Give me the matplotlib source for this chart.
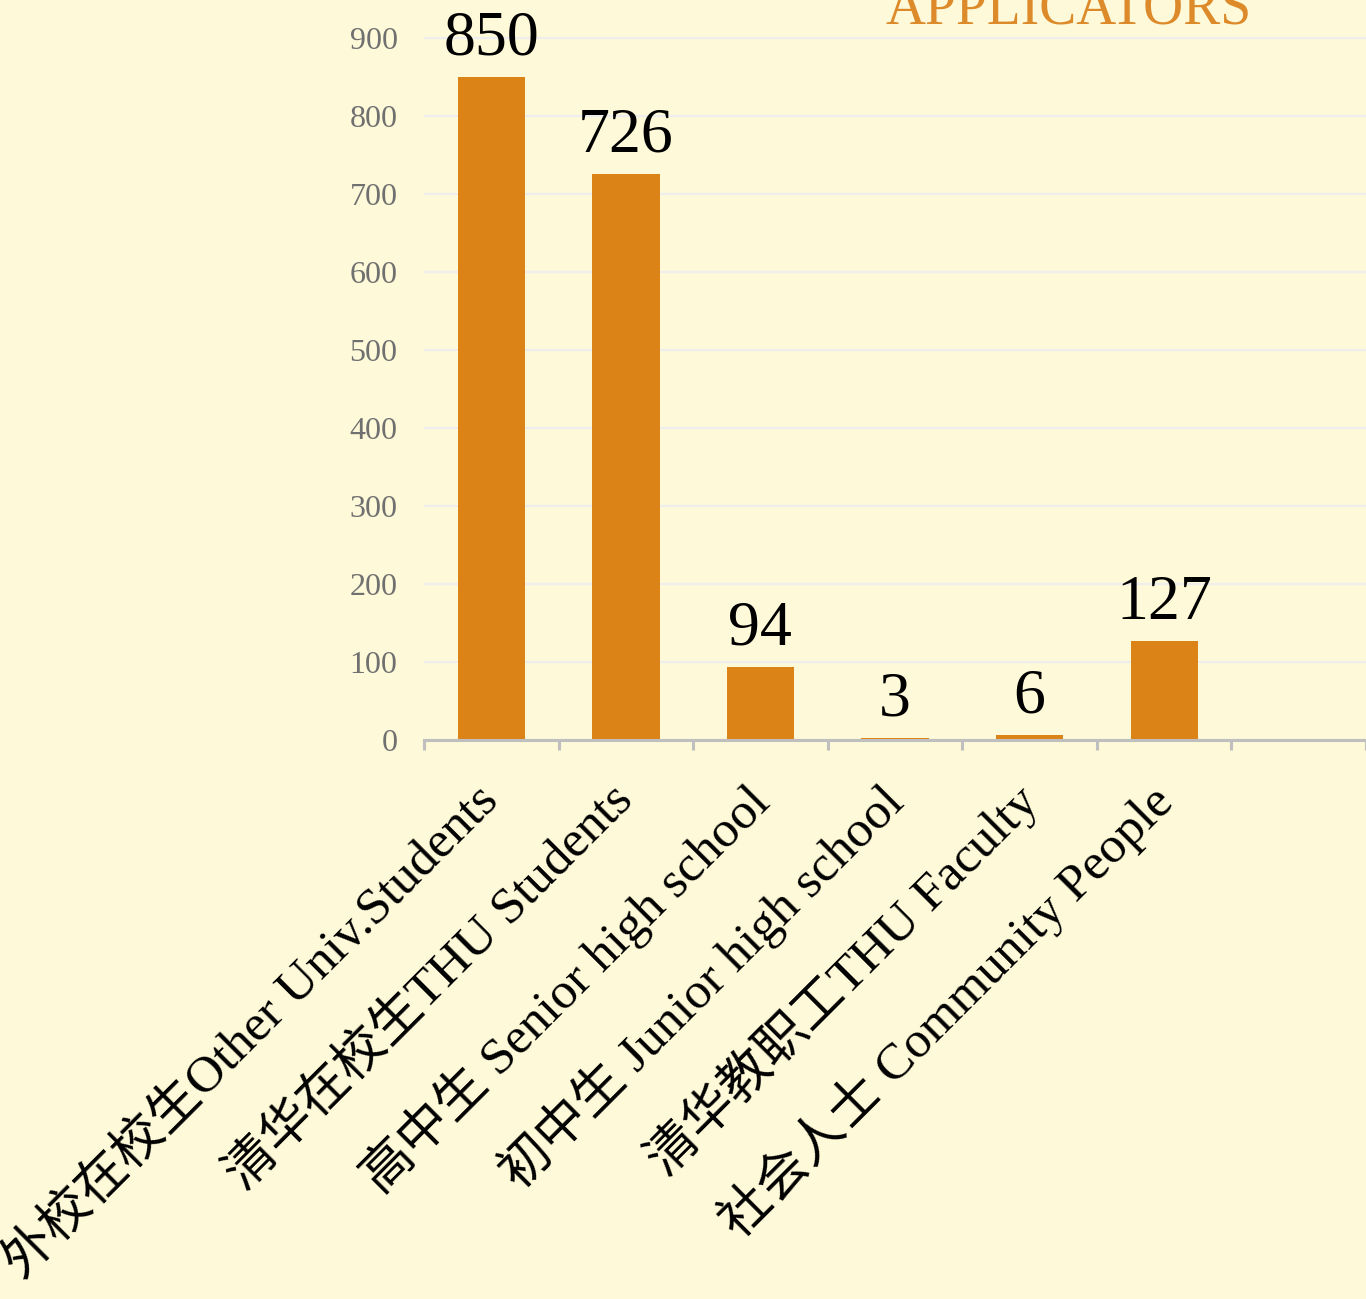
import numpy as np
import matplotlib
matplotlib.use("Agg")
import matplotlib.pyplot as plt

# data
categories = ["外校在校生Other Univ.Students", "清华在校生THU Students", "高中生 Senior high school",
              "初中生 Junior high school", "清华教职工THU Faculty", "社会人士 Community People"]
counts = [850, 726, 94, 3, 6, 127]
yticks = [0, 100, 200, 300, 400, 500, 600, 700, 800, 900]
title = "APPLICATORS"

bg = "#FEF9D8"
orange = "#DC8318"
plt.rcParams['font.family'] = ['Liberation Serif', 'Noto Sans CJK SC']

W, H = 1366, 1299
fig = plt.figure(figsize=(W / 100, H / 100), dpi=100, facecolor=bg)
# axes: left edge at x=424, bottom (value 0) at y=740, top at figure top
ax = fig.add_axes([424 / W, (H - 740) / H, (W - 424) / W, 740 / H])
ax.set_facecolor(bg)

x = np.arange(len(categories))
ax.bar(x, counts, width=0.5, color=orange, zorder=3)

for xi, v in zip(x, counts):
    ax.annotate(str(v), (xi, v), xytext=(0, 6), textcoords="offset points",
                ha="center", va="bottom", fontsize=46, color="black", zorder=4)

ax.set_ylim(0, 740 / 78 * 100)
ax.set_xlim(-0.5, -0.5 + (W - 424) / 135)

ax.set_yticks(yticks)
ax.set_yticklabels([str(t) for t in yticks], fontsize=23, color="#707070")
ax.tick_params(axis="y", length=0, pad=19)
ax.grid(axis="y", color="#EEEEEE", linewidth=1.6, zorder=0)

ax.set_xticks(x)
ax.set_xticklabels(categories, rotation=45, ha="right", rotation_mode="anchor",
                   fontsize=37, va="center")
ax.tick_params(axis="x", which="major", length=0, pad=38)
ax.set_xticks(np.arange(-0.5, 7, 1), minor=True)
ax.tick_params(axis="x", which="minor", length=7, width=2.2, color="#BFBFBF")

for s in ["top", "right", "left"]:
    ax.spines[s].set_visible(False)
ax.spines["bottom"].set_color("#BFBFBF")
ax.spines["bottom"].set_linewidth(2.2)
ax.spines["bottom"].set_zorder(5)

# title sits partly above the top edge, as in the original
fig.text(1069 / W, 1 - 24 / H, title, ha="center", va="baseline",
         fontsize=40, color="#DC8A2A")

fig.savefig("out.png", dpi=100, facecolor=bg)
